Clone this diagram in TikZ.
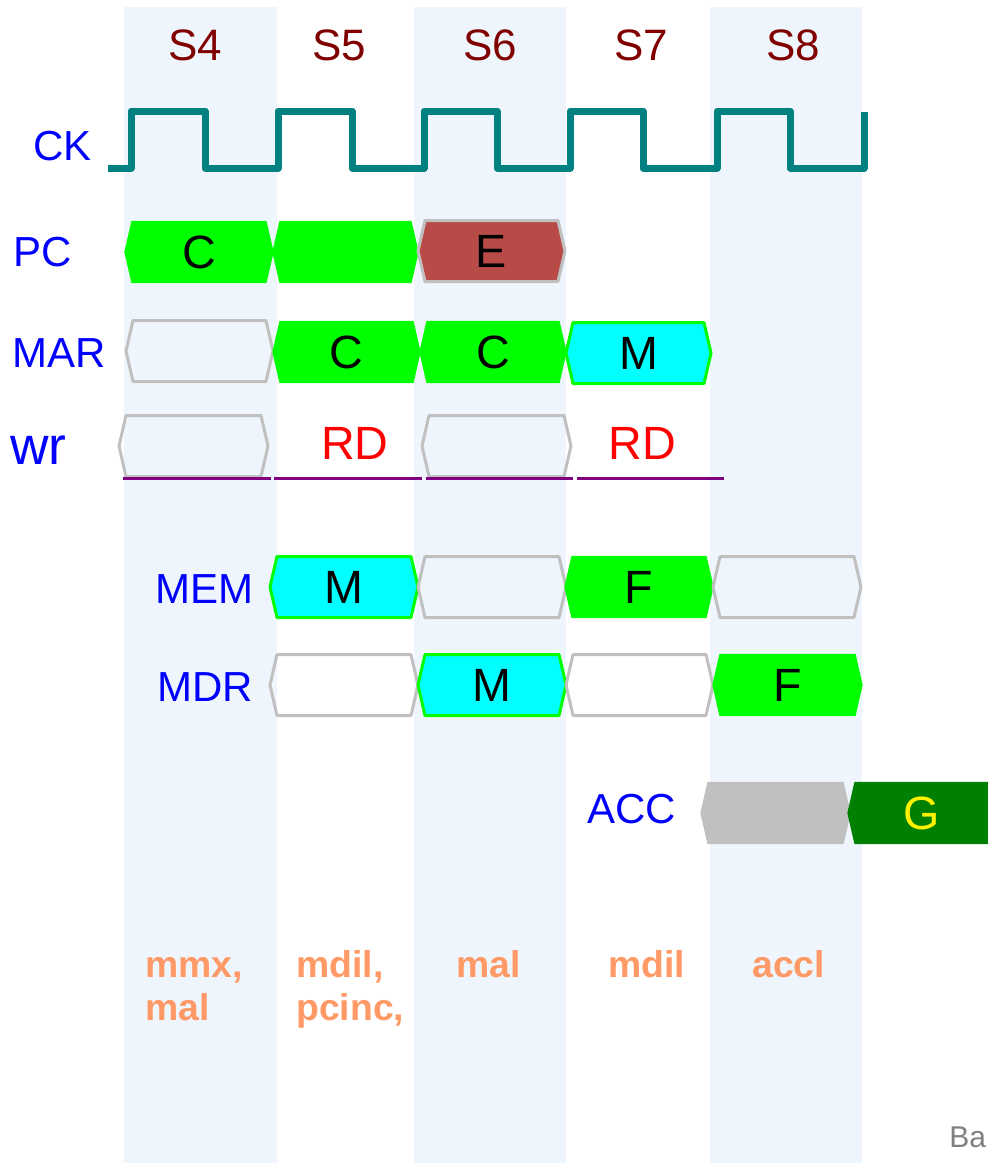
\documentclass[tikz,border=0pt]{standalone}
\usepackage{fontspec}
\setmainfont{Liberation Sans}
\definecolor{colbg}{HTML}{EEF5FC}
\definecolor{clk}{HTML}{008080}
\definecolor{gr}{HTML}{00FF00}
\definecolor{cy}{HTML}{00FFFF}
\definecolor{gy}{HTML}{C0C0C0}
\definecolor{ered}{HTML}{B84A48}
\definecolor{dgreen}{HTML}{008000}
\definecolor{slab}{HTML}{800000}
\definecolor{ora}{HTML}{FF9966}
\definecolor{purp}{HTML}{800080}
\definecolor{bagray}{HTML}{808080}
\newcommand\busbox[6][]{%
  \path[line join=round,#1] (#3,#5) -- ({#3+7},{#5-30.5}) -- ({#4-7},{#5-30.5}) -- (#4,#5)
    -- ({#4-7},{#5+30.5}) -- ({#3+7},{#5+30.5}) -- cycle;
  \node[boxtext] (#2) at ({(#3+#4)/2},#5) {#6};}
\tikzset{
  boxtext/.style={inner sep=0pt,font=\fontsize{35}{42}\selectfont},
  greenbox/.style={fill=gr,draw=gr,line width=1pt},
  cyanbox/.style={fill=cy,draw=gr,line width=2.25pt},
  graybox/.style={draw=gy,line width=2.25pt},
  redbox/.style={fill=ered,draw=gy,line width=2.25pt},
  grayfill/.style={fill=gy,draw=gy,line width=1pt},
  dgreenbox/.style={fill=dgreen,draw=dgreen,line width=1pt},
  rowlab/.style={text=blue,inner sep=0pt,anchor=west,font=\fontsize{31.5}{38}\selectfont},
  collab/.style={text=slab,inner sep=0pt,font=\fontsize{33}{40}\selectfont},
  oplab/.style={text=ora,inner sep=0pt,anchor=base west,font=\bfseries\fontsize{28}{34}\selectfont},
  wrline/.style={draw=purp,line width=2.25pt},
}
\begin{document}
\begin{tikzpicture}[x=0.75pt,y=-0.75pt]
\useasboundingbox (0,0) rectangle (988,1163);
% column backgrounds
\fill[colbg] (124,7) rectangle (277,1163);
\fill[colbg] (414,7) rectangle (566,1163);
\fill[colbg] (710,7) rectangle (862,1163);
% column labels
\node[collab] (s4) at (195,45) {S4};
\node[collab] (s5) at (339,45) {S5};
\node[collab] (s6) at (490,45) {S6};
\node[collab] (s7) at (641,45) {S7};
\node[collab] (s8) at (793,45) {S8};
% clock
\draw[clk,line width=5.25pt,line join=round]
  (108,168) -- (131,168) -- (131,111) -- (205,111) -- (205,168) -- (278,168) -- (278,111)
  -- (352,111) -- (352,168) -- (424,168) -- (424,111) -- (497,111) -- (497,168) -- (570,168)
  -- (570,111) -- (643,111) -- (643,168) -- (717,168) -- (717,111) -- (790,111) -- (790,168)
  -- (864,168) -- (864,112);
% row labels
\node[rowlab] (ck) at (33,146) {CK};
\node[rowlab] (pc) at (13,252) {PC};
\node[rowlab] (mar) at (12,353) {MAR};
\node[rowlab,font=\fontsize{40}{48}\selectfont] (wr) at (10,450) {wr};
\node[rowlab] (mem) at (155,589) {MEM};
\node[rowlab] (mdr) at (157,687) {MDR};
\node[rowlab] (acc) at (587,809) {ACC};
% PC row
\busbox[greenbox]{pc1}{125}{273}{252}{C}
\busbox[greenbox]{pc2}{273}{418}{252}{}
\busbox[redbox]{pc3}{418}{565}{251}{E}
% MAR row
\busbox[graybox]{mar1}{126}{273}{351}{}
\busbox[greenbox]{mar2}{273}{420}{352}{C}
\busbox[greenbox]{mar3}{420}{566}{352}{C}
\busbox[cyanbox]{mar4}{566}{711}{353}{M}
% wr row
\busbox[graybox]{wr1}{119}{268}{446}{}
\node[boxtext,text=red] (rd1) at (355,443) {RD};
\busbox[graybox]{wr3}{422}{571}{446}{}
\node[boxtext,text=red] (rd2) at (642,443) {RD};
\draw[wrline] (123,478) -- (271,478);
\draw[wrline] (274,478) -- (422,478);
\draw[wrline] (426,478) -- (573,478);
\draw[wrline] (577,478) -- (724,478);
% MEM row
\busbox[cyanbox]{mem1}{270}{418}{587}{M}
\busbox[graybox]{mem2}{418}{566}{587}{}
\busbox[greenbox]{mem3}{565}{713}{587}{F}
\busbox[graybox]{mem4}{713}{861}{587}{}
% MDR row
\busbox[graybox]{mdr1}{270}{418}{685}{}
\busbox[cyanbox]{mdr2}{418}{566}{685}{M}
\busbox[graybox]{mdr3}{566}{713}{685}{}
\busbox[greenbox]{mdr4}{713}{862}{685}{F}
% ACC row
\busbox[grayfill]{acc1}{701}{850}{813}{}
\busbox[dgreenbox]{acc2}{848}{1000}{813}{}
\node[boxtext,text=yellow] (accg) at (922,813) {G};
% operation labels
\node[oplab] (op1a) at (145,977) {mmx,};
\node[oplab] (op1b) at (145,1020) {mal};
\node[oplab] (op2a) at (296,977) {mdil,};
\node[oplab] (op2b) at (296,1020) {pcinc,};
\node[oplab] (op3) at (456,977) {mal};
\node[oplab] (op4) at (608,977) {mdil};
\node[oplab] (op5) at (752,977) {accl};
% corner text
\node[text=bagray,inner sep=0pt,anchor=base west,font=\fontsize{22.5}{27}\selectfont] (ba) at (949,1147) {Ba};
\end{tikzpicture}
\end{document}
